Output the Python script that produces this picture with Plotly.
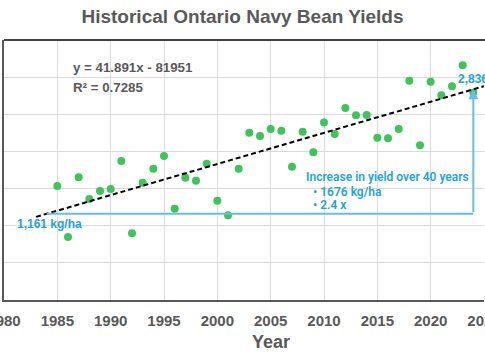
import plotly.graph_objects as go

# ---- data ----
years = list(range(1985, 2025))
yields = [1534, 848, 1651, 1359, 1467, 1494, 1871, 898, 1579, 1767,
          1938, 1229, 1646, 1606, 1835, 1337, 1140, 1767, 2252, 2207,
          2302, 2279, 1795, 2266, 1988, 2391, 2234, 2584, 2486, 2490,
          2185, 2176, 2302, 2952, 2082, 2939, 2755, 2876, 3159, 2790]
trend_slope = 41.891
trend_intercept = -81951
trend_years = [1983, 2025]
change_start_year = 1984
change_end_year = 2024
x_ticks = [1980, 1985, 1990, 1995, 2000, 2005, 2010, 2015, 2020, 2025]

def trend(x):
    return trend_slope * x + trend_intercept

start_val = trend(change_start_year)
end_val = trend(change_end_year)

GRAY = "#595959"
BLUE_TXT = "#1EA2DC"
BLUE_LINE = "#66BEE6"
GREEN = "#3FC35B"
FONT = "Liberation Sans"

fig = go.Figure()
fig.add_trace(go.Scatter(x=years, y=yields, mode="markers",
                         marker=dict(color=GREEN, size=8), showlegend=False,
                         cliponaxis=False))
fig.add_trace(go.Scatter(x=trend_years, y=[trend(v) for v in trend_years], mode="lines",
                         line=dict(color="black", width=2, dash="5px,3px"), showlegend=False))
fig.add_trace(go.Scatter(x=[change_start_year, change_end_year], y=[start_val, start_val],
                         mode="lines", line=dict(color=BLUE_LINE, width=2), showlegend=False))

fig.add_annotation(x=change_end_year, y=end_val, ax=change_end_year, ay=start_val,
                   xref="x", yref="y", axref="x", ayref="y", text="", showarrow=True,
                   arrowhead=2, arrowsize=1, arrowwidth=2, arrowcolor=BLUE_LINE)

def ann(text, x, y, size, color, family=FONT, xanchor="left", weight="bold"):
    fig.add_annotation(text=text, x=x, y=y, xref="paper", yref="paper",
                       xanchor=xanchor, yanchor="middle", showarrow=False,
                       font=dict(family=family, size=size, color=color, weight=weight))

ann("y = 41.891x - 81951", 0.140, 0.896, 13.3, GRAY)
ann("R² = 0.7285", 0.140, 0.819, 13.3, GRAY)
ann(f"{start_val:,.0f} kg/ha", 0.023, 0.292, 12, BLUE_TXT)
ann(f"{end_val:,.0f}", 0.942, 0.85, 12, BLUE_TXT)
ann("Increase in yield over 40 years", 0.625, 0.474, 12, BLUE_TXT, family="Roboto", weight=600)
ann(f"• {end_val - start_val:.0f} kg/ha", 0.6397, 0.4165, 12, BLUE_TXT, family="Roboto", weight=600)
ann(f"• {end_val / start_val:.1f} x", 0.6397, 0.365, 12, BLUE_TXT, family="Roboto", weight=600)
ann("Year", 0.556, -0.1615, 18, GRAY, xanchor="center")

fig.add_shape(type="line", xref="paper", yref="paper", x0=0, x1=1.05, y0=1, y1=1,
              line=dict(color="black", width=1.5))

fig.update_layout(
    width=485, height=360,
    margin=dict(l=4, r=1, t=40, b=60),
    paper_bgcolor="white", plot_bgcolor="white",
    title=dict(text="Historical Ontario Navy Bean Yields", x=0.5, xanchor="center",
               y=1 - 16 / 360, yanchor="middle", xref="container",
               font=dict(family=FONT, size=19, color=GRAY, weight="bold")),
    xaxis=dict(range=[1980, 2025], tickvals=x_ticks, showgrid=True, gridcolor="#D9D9D9",
               gridwidth=1, showline=True, linecolor=GRAY, linewidth=2, zeroline=False,
               ticks="", ticklabelstandoff=6, automargin=False, ticklabeloverflow="allow",
               tickfont=dict(family=FONT, size=15, color=GRAY, weight="bold")),
    yaxis=dict(range=[0, 3500], dtick=500, showgrid=True, gridcolor="#D9D9D9", gridwidth=1,
               showline=True, linecolor=GRAY, linewidth=2, zeroline=False, automargin=False,
               showticklabels=False, ticks=""),
)

fig.write_html("out.html", config={"displayModeBar": False},
               post_script="document.body.style.margin='0';document.body.style.overflow='hidden';")
